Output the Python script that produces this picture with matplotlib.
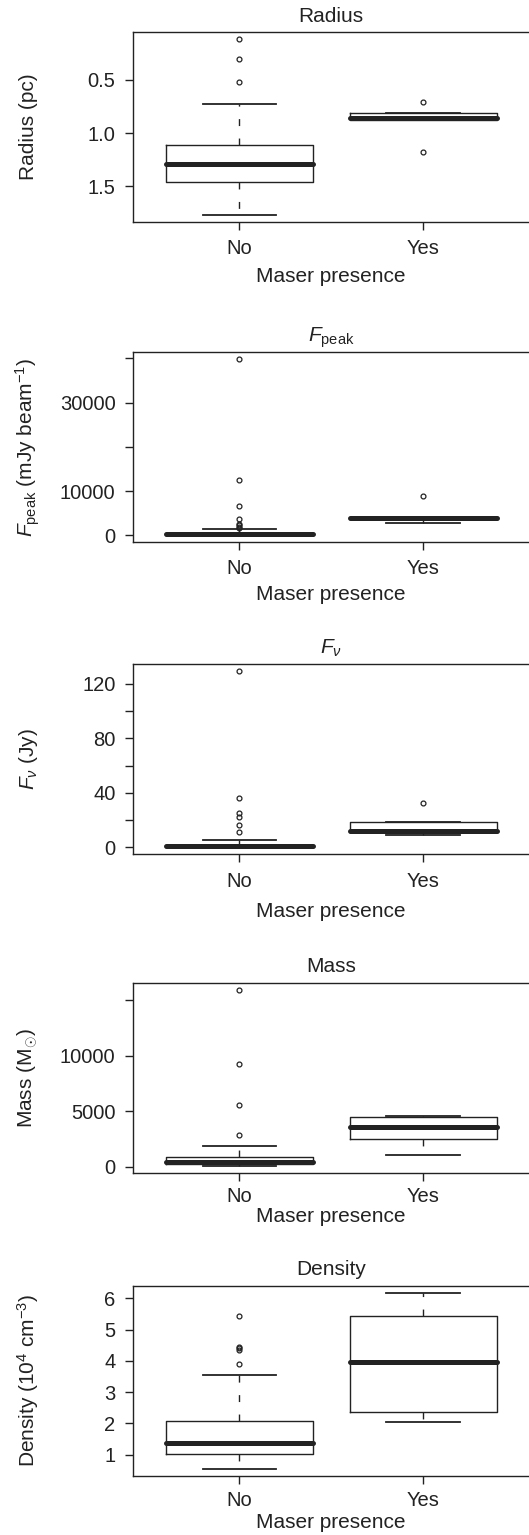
import matplotlib
matplotlib.use('Agg')
import matplotlib.pyplot as plt

plt.rcParams['font.family'] = ['Liberation Sans', 'DejaVu Sans']
plt.rcParams['mathtext.fontset'] = 'custom'
plt.rcParams['mathtext.rm'] = 'Liberation Sans'
plt.rcParams['mathtext.it'] = 'Liberation Sans:italic'
plt.rcParams['mathtext.bf'] = 'Liberation Sans:bold'

# ---------------- data ----------------
groups = ['No', 'Yes']
xlabel_text = 'Maser presence'

# Radius (pc) -- axis is inverted
radius_whislo = [0.73, 0.806]
radius_q1 = [1.115, 0.815]
radius_med = [1.29, 0.862]
radius_q3 = [1.456, 0.875]
radius_whishi = [1.765, 0.88]
radius_fliers = [[0.119, 0.30, 0.52], [0.712, 1.175]]
radius_ticks = [0.5, 1.0, 1.5]
radius_ticklabels = ['0.5', '1.0', '1.5']

# F_peak (mJy/beam)
fpeak_whislo = [50, 2715]
fpeak_q1 = [200, 3800]
fpeak_med = [385, 3940]
fpeak_q3 = [650, 4100]
fpeak_whishi = [1515, 4200]
fpeak_fliers = [[39860, 12440, 6560, 3700, 2700, 2300, 2000, 1800], [8900]]
fpeak_ticks = [0, 10000, 20000, 30000, 40000]
fpeak_ticklabels = ['0', '10000', '', '30000', '']

# F_nu (Jy)
fnu_whislo = [0.1, 9.4]
fnu_q1 = [0.6, 11.6]
fnu_med = [1.2, 12.0]
fnu_q3 = [2.0, 18.4]
fnu_whishi = [5.1, 18.6]
fnu_fliers = [[129.3, 36.2, 25.4, 22.5, 16.6, 11.0], [32.6]]
fnu_ticks = [0, 20, 40, 60, 80, 100, 120]
fnu_ticklabels = ['0', '', '40', '', '80', '', '120']

# Mass (Msun)
mass_whislo = [60, 1112]
mass_q1 = [250, 2559]
mass_med = [480, 3580]
mass_q3 = [900, 4521]
mass_whishi = [1863, 4600]
mass_fliers = [[15931, 9277, 5543, 2893], []]
mass_ticks = [0, 5000, 10000, 15000]
mass_ticklabels = ['0', '5000', '10000', '']

# Density (1e4 cm^-3)
dens_whislo = [0.545, 2.04]
dens_q1 = [1.02, 2.37]
dens_med = [1.364, 3.96]
dens_q3 = [2.09, 5.45]
dens_whishi = [3.56, 6.18]
dens_fliers = [[5.45, 4.45, 4.40, 4.35, 3.89], []]
dens_ticks = [1, 2, 3, 4, 5, 6]
dens_ticklabels = ['1', '2', '3', '4', '5', '6']

panels = [
    dict(title='Radius', ylabel='Radius (pc)', invert=True,
         s=(radius_whislo, radius_q1, radius_med, radius_q3, radius_whishi, radius_fliers),
         ticks=radius_ticks, labels=radius_ticklabels, px=(32.3, 221.7), tl=26.6, xl=55.0),
    dict(title=r'$F_{\mathrm{peak}}$', ylabel=r'$F_{\mathrm{peak}}$ (mJy beam$^{-1}$)', invert=False,
         s=(fpeak_whislo, fpeak_q1, fpeak_med, fpeak_q3, fpeak_whishi, fpeak_fliers),
         ticks=fpeak_ticks, labels=fpeak_ticklabels, px=(352.0, 542.3), tl=26.0, xl=52.7),
    dict(title=r'$F_{\nu}$', ylabel=r'$F_{\nu}$ (Jy)', invert=False,
         s=(fnu_whislo, fnu_q1, fnu_med, fnu_q3, fnu_whishi, fnu_fliers),
         ticks=fnu_ticks, labels=fnu_ticklabels, px=(664.0, 854.3), tl=27.4, xl=57.0),
    dict(title='Mass', ylabel=r'Mass (M$_{\odot}$)', invert=False,
         s=(mass_whislo, mass_q1, mass_med, mass_q3, mass_whishi, mass_fliers),
         ticks=mass_ticks, labels=mass_ticklabels, px=(983.0, 1173.3), tl=23.4, xl=43.7),
    dict(title='Density', ylabel=r'Density (10$^4$ cm$^{-3}$)', invert=False,
         s=(dens_whislo, dens_q1, dens_med, dens_q3, dens_whishi, dens_fliers),
         ticks=dens_ticks, labels=dens_ticklabels, px=(1285.7, 1476.0), tl=24.0, xl=47.0),
]

W, H = 529, 1535
fig = plt.figure(figsize=(W / 100, H / 100), dpi=100)
ink = '#222222'
left_px, right_px = 132.7, 529.6
fs_tick = 14.5
fs_lab = 15

for p in panels:
    top, bot = p['px']
    hpx = bot - top
    ax = fig.add_axes([left_px / W, 1 - bot / H, (right_px - left_px) / W, hpx / H])
    wl, q1, md, q3, wh, fl = p['s']
    stats = []
    for i in range(2):
        stats.append(dict(whislo=wl[i], q1=q1[i], med=md[i], q3=q3[i], whishi=wh[i],
                          fliers=fl[i], label=groups[i]))
    ax.bxp(stats, positions=[1, 2], widths=0.8, capwidths=0.4, showfliers=True,
           boxprops=dict(color=ink, linewidth=1.0),
           whiskerprops=dict(color=ink, linewidth=1.0, linestyle=(0, (5, 9))),
           capprops=dict(color=ink, linewidth=1.3),
           medianprops=dict(color=ink, linewidth=3.6, solid_capstyle='round'),
           flierprops=dict(marker='o', markerfacecolor='none', markeredgecolor=ink,
                           markersize=3.5, markeredgewidth=0.9, linestyle='none'))
    allv = wl + wh + [v for f in fl for v in f]
    lo, hi = min(allv), max(allv)
    r = hi - lo
    ax.set_ylim(lo - 0.04 * r, hi + 0.04 * r)
    if p['invert']:
        ax.invert_yaxis()
    ax.set_xlim(0.42, 2.58)
    ax.set_xticks([1, 2])
    ax.set_xticklabels(groups)
    ax.set_yticks(p['ticks'])
    ax.set_yticklabels(p['labels'])
    ax.tick_params(axis='both', direction='out', length=5.8, width=1.0, colors=ink,
                   labelsize=fs_tick, labelcolor=ink)
    ax.tick_params(axis='y', pad=6.5)
    ax.tick_params(axis='x', pad=0)
    for t in ax.get_xticklabels():
        t.set_va('center')
    # place tick labels centre at tl px below axes bottom
    ax.tick_params(axis='x', pad=(p['tl'] - 8.0) * 0.72)
    for sp in ax.spines.values():
        sp.set_linewidth(1.0)
        sp.set_color(ink)
    ax.set_title(p['title'], fontsize=fs_lab, color=ink, pad=7.6)
    ax.set_xlabel(xlabel_text, fontsize=fs_lab, color=ink)
    ax.xaxis.label.set_va('center')
    ax.xaxis.set_label_coords(0.5, -p['xl'] / hpx)
    ax.set_ylabel(p['ylabel'], fontsize=fs_lab, color=ink)
    ax.yaxis.label.set_va('center')
    ax.yaxis.set_label_coords((28 - left_px) / (right_px - left_px), 0.5)

fig.savefig('out.png', dpi=100)
